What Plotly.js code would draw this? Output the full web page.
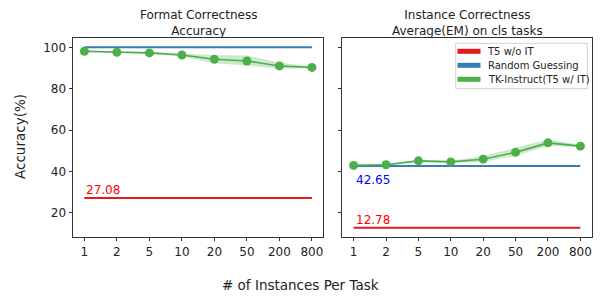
<!DOCTYPE html>
<html><head><meta charset="utf-8">
<script src="https://cdn.plot.ly/plotly-3.0.1.min.js"></script>
<style>body{margin:0;padding:0;background:#fff}#chart{width:601px;height:298px}</style>
</head><body><div id="chart"></div>
<script>
const categories = ["1","2","5","10","20","50","200","800"];
// Format correctness accuracy (left)
const fmtTK = [98.1, 97.6, 97.3, 96.3, 94.2, 93.4, 91.0, 90.3];
const fmtTKUpper = [98.6, 97.9, 97.7, 96.8, 96.2, 96.0, 92.7, 90.7];
const fmtTKLower = [97.6, 97.3, 96.9, 95.6, 92.3, 91.2, 89.6, 89.9];
const fmtRandom = 100;
const fmtT5 = 27.08;
// Instance correctness EM on cls tasks (right)
const insTK = [42.9, 43.2, 45.1, 44.6, 45.9, 49.2, 53.8, 52.2];
const insTKUpper = [43.4, 43.7, 45.6, 45.1, 47.4, 51.4, 55.5, 52.9];
const insTKLower = [42.4, 42.7, 44.6, 44.1, 44.6, 47.6, 52.4, 51.5];
const insRandom = 42.65;
const insT5 = 12.78;
const seriesNames = ["T5 w/o IT", "Random Guessing", "TK-Instruct(T5 w/ IT)"];

const RED = "#e41a1c", BLUE = "#377eb8", GREEN = "#4daf4a";
const seriesColors = [RED, BLUE, GREEN];
const BAND = "rgba(77,175,74,0.28)";

function constLine(v) { return categories.map(() => v); }

function panel(xa, ya, tk, up, lo, rnd, t5) {
  return [
    {x: categories.concat(categories.slice().reverse()), y: up.concat(lo.slice().reverse()),
     xaxis: xa, yaxis: ya, type: "scatter", mode: "lines", fill: "toself", fillcolor: BAND,
     line: {width: 0, color: BAND}, hoverinfo: "skip", showlegend: false},
    {x: categories, y: constLine(t5), xaxis: xa, yaxis: ya, mode: "lines", name: seriesNames[0],
     line: {color: RED, width: 2}, showlegend: false},
    {x: categories, y: constLine(rnd), xaxis: xa, yaxis: ya, mode: "lines", name: seriesNames[1],
     line: {color: BLUE, width: 2}, showlegend: false},
    {x: categories, y: tk, xaxis: xa, yaxis: ya, mode: "lines+markers", name: seriesNames[2],
     line: {color: GREEN, width: 1.6}, marker: {color: GREEN, size: 9}, showlegend: false}
  ];
}

const data = panel("x", "y", fmtTK, fmtTKUpper, fmtTKLower, fmtRandom, fmtT5)
  .concat(panel("x2", "y2", insTK, insTKUpper, insTKLower, insRandom, insT5));

const W = 601, H = 298;
const px = v => v / W, py = v => (H - v) / H;

// manual legend (matplotlib-style compact box)
const legShapes = [{type: "rect", xref: "paper", yref: "paper", x0: px(455.7), x1: px(587.3), y0: py(88.7), y1: py(43.3),
  line: {color: "#d0d0d0", width: 1}, fillcolor: "rgba(255,255,255,0.85)", layer: "above"}];
const legAnn = [];
seriesNames.forEach((n, i) => {
  const yc = 51.3 + 14 * i;
  legShapes.push({type: "line", xref: "paper", yref: "paper", x0: px(457.5), x1: px(480.5), y0: py(yc), y1: py(yc),
    line: {color: seriesColors[i], width: 5}, layer: "above"});
  legAnn.push({text: n, xref: "paper", yref: "paper", x: px(485.5), y: py(yc), xanchor: "left", yanchor: "middle",
    showarrow: false, font: {size: 10, color: "#222"}});
});

const axCommon = {showline: true, mirror: true, linecolor: "#333", linewidth: 1, ticks: "outside",
  ticklen: 3.5, tickcolor: "#333", showgrid: false, zeroline: false,
  tickfont: {family: "DejaVu Sans", size: 12, color: "#222"}};
const yd = [py(236.7), py(38.3)];
const layout = {
  width: W, height: H, margin: {l: 0, r: 0, t: 0, b: 0},
  paper_bgcolor: "#fff", plot_bgcolor: "#fff",
  font: {family: "DejaVu Sans", color: "#222"},
  xaxis: Object.assign({}, axCommon, {type: "category", domain: [px(73), px(323.3)], range: [-0.35, 7.35], anchor: "y"}),
  yaxis: Object.assign({}, axCommon, {domain: yd, range: [8.42, 104.36], tickvals: [20, 40, 60, 80, 100], anchor: "x"}),
  xaxis2: Object.assign({}, axCommon, {type: "category", domain: [px(342.3), px(591.7)], range: [-0.35, 7.35], anchor: "y2"}),
  yaxis2: Object.assign({}, axCommon, {domain: yd, range: [8.42, 104.36], tickvals: [20, 40, 60, 80, 100], showticklabels: false, anchor: "x2"}),
  showlegend: false,
  shapes: legShapes,
  annotations: [
    {text: "Format Correctness<br>Accuracy", xref: "paper", yref: "paper", x: px((73 + 323.3) / 2), y: py(6),
     xanchor: "center", yanchor: "top", showarrow: false, font: {size: 12, color: "#222"}},
    {text: "Instance Correctness<br>Average(EM) on cls tasks", xref: "paper", yref: "paper", x: px((342.3 + 591.7) / 2), y: py(6),
     xanchor: "center", yanchor: "top", showarrow: false, font: {size: 12, color: "#222"}},
    {text: "# of Instances Per Task", xref: "paper", yref: "paper", x: px(300), y: py(285),
     xanchor: "center", yanchor: "middle", showarrow: false, font: {size: 13.5, color: "#222"}},
    {text: "Accuracy(%)", xref: "paper", yref: "paper", x: px(20), y: py(137), textangle: -90,
     xanchor: "center", yanchor: "middle", showarrow: false, font: {size: 13.5, color: "#222"}},
    {text: String(fmtT5), xref: "x", yref: "y", x: 0, y: fmtT5, xanchor: "left", yanchor: "bottom", yshift: -1,
     showarrow: false, font: {size: 12, color: "red"}},
    {text: String(insRandom), xref: "x2", yref: "y2", x: 0, y: insRandom, xanchor: "left", yanchor: "top", yshift: -5,
     showarrow: false, font: {size: 12, color: "blue"}},
    {text: String(insT5), xref: "x2", yref: "y2", x: 0, y: insT5, xanchor: "left", yanchor: "bottom", yshift: -1,
     showarrow: false, font: {size: 12, color: "red"}}
  ].concat(legAnn)
};
Plotly.newPlot("chart", data, layout, {displayModeBar: false, staticPlot: true});
</script></body></html>
